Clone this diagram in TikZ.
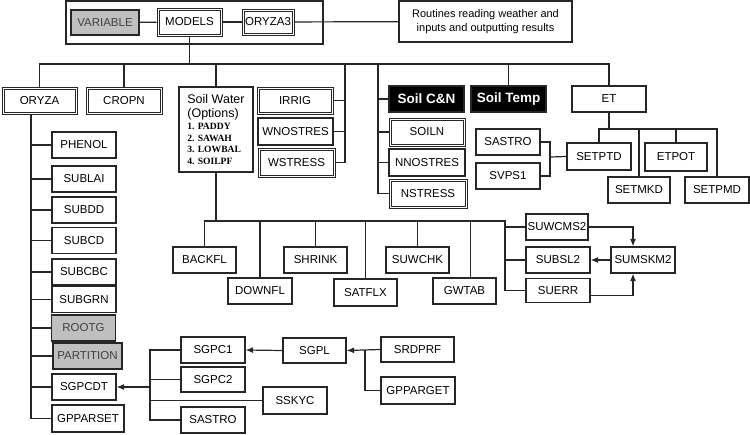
\documentclass[tikz,border=0pt]{standalone}
\usepackage{fontspec}
\setmainfont{Liberation Sans}
\newfontfamily\optfont{Liberation Serif}
\usepackage{tikz}
\usetikzlibrary{arrows.meta,calc}

\newcommand{\optline}[1]{{\optfont\bfseries\fontsize{9.6}{11}\selectfont #1}}

\begin{document}
\begin{tikzpicture}[x=1pt,y=-1pt,
  box/.style={draw=black!85,line width=1.1pt,fill=white,inner sep=0pt,
    minimum width=64pt,minimum height=26pt,font=\fontsize{11.5}{13}\selectfont},
  dbox/.style={box,line width=1pt},
  inner/.style={draw=black!85,line width=0.8pt},
  graybox/.style={box,fill=black!25,text=black!75},
  darkbox/.style={box,fill=black,text=white,font=\bfseries\fontsize{13.5}{15}\selectfont},
  link/.style={draw=black!85,line width=1.2pt},
  arr/.style={link,-{Latex[length=7.5pt,width=6pt]}}]
\useasboundingbox (0,0) rectangle (750,434);

% Top row
\node[box,minimum width=257pt,minimum height=43pt] (topframe) at (194.5,22.5) {};
\node[graybox,minimum width=68pt,minimum height=25pt] (variable) at (105,22.5) {VARIABLE};
\node[dbox,minimum width=65pt,minimum height=28pt] (models) at (189.5,22) {MODELS};
\node[dbox,minimum width=52pt] (oryza3) at (268,22) {ORYZA3};
\node[box,minimum width=173pt,minimum height=41pt,align=center,
  font=\fontsize{11}{13.5}\selectfont] (routines) at (485.5,21.5)
  {Routines reading weather and\\inputs and outputting results};
\draw[link] (variable) -- (models);
\draw[link] (models) -- (oryza3);
\draw[link] (oryza3) -- (routines);

% Second row
\node[dbox,minimum width=75pt,minimum height=27pt] (oryza) at (39.5,100.5) {ORYZA};
\node[dbox,minimum width=76pt,minimum height=27pt] (cropn) at (124,100.5) {CROPN};
\node[box,minimum width=74pt,minimum height=85pt,align=left,
  font=\fontsize{12.5}{14}\selectfont] (soilw) at (216,129.5)
  {Soil Water\\(Options)\\[-2pt]\optline{1. PADDY}\\[-2.5pt]\optline{2. SAWAH}\\[-2.5pt]%
   \optline{3. LOWBAL}\\[-2.5pt]\optline{4. SOILPF}};
\node[dbox,minimum width=76pt,minimum height=27pt] (irrig) at (295,100.5) {IRRIG};
\node[box,minimum width=75pt,minimum height=27pt] (wnostres) at (295.5,131.5) {WNOSTRES};
\node[dbox,minimum width=77pt,minimum height=29pt] (wstress) at (296.5,162.5) {WSTRESS};
\node[darkbox,minimum width=75pt] (soilcn) at (426.5,99) {Soil C\&N};
\node[darkbox,minimum width=75pt] (soiltemp) at (508.5,99) {Soil Temp};
\node[box,minimum width=74pt] (et) at (609,99) {ET};
\node[dbox,minimum width=76pt,minimum height=28pt] (soiln) at (427,132) {SOILN};
\node[box,minimum width=76pt,minimum height=27pt] (nnostres) at (427,162.5) {NNOSTRES};
\node[dbox,minimum width=78pt,minimum height=29pt] (nstress) at (428,193.5) {NSTRESS};

% inner line of the double boxes
\foreach \n in {models,oryza3,oryza,cropn,irrig,wstress,soiln,nstress}
  \draw[inner] ([shift={(2.6pt,-2.6pt)}]\n.north west) rectangle ([shift={(-2.6pt,2.6pt)}]\n.south east);

% Main bus
\coordinate (wbus) at (345,64);
\coordinate (cbus) at (378,64);
\draw[link] (models.south) -- (models.south |- wbus);
\draw[link] (oryza.north) |- (et.north |- wbus) -- (et.north);
\foreach \n in {cropn,soilw,soiltemp}
  \draw[link] (\n.north) -- (\n.north |- wbus);
\draw[link] (wbus) |- (wstress.east);
\foreach \n in {irrig,wnostres}
  \draw[link] (\n.east) -- (\n.east -| wbus);
\draw[link] (cbus) |- (nstress.west);
\foreach \n in {soilcn,soiln,nnostres}
  \draw[link] (\n.west) -- (\n.west -| cbus);

% ET branch
\node[box] (sastro) at (508,142) {SASTRO};
\node[box] (svps1) at (508,176) {SVPS1};
\node[box,minimum height=27pt] (setptd) at (599,156.5) {SETPTD};
\node[box,minimum width=62pt,minimum height=28pt] (etpot) at (676,157) {ETPOT};
\node[box,minimum width=62pt] (setmkd) at (639,190) {SETMKD};
\node[box] (setpmd) at (717,190) {SETPMD};
\coordinate (etbus) at (609,129);
\coordinate (sjoin) at (550,157);
\draw[link] (et.south) -- (etbus);
\draw[link] (setptd.north) |- (setpmd.north |- etbus) -- (setpmd.north);
\foreach \n in {setmkd,etpot}
  \draw[link] (\n.north) -- (\n.north |- etbus);
\draw[link] (sastro.east) -| (svps1.east -| sjoin) -- (svps1.east);
\draw[link] (setptd.west) -- (sjoin);

% ORYZA column
\foreach \n/\t/\y in {phenol/PHENOL/145,sublai/SUBLAI/179,subdd/SUBDD/210,
    subcd/SUBCD/240.5,subcbc/SUBCBC/272,subgrn/SUBGRN/299.5,sgpcdt/SGPCDT/387}
  \node[box] (\n) at (84,\y) {\t};
\node[graybox] (rootg) at (83.5,328) {ROOTG};
\node[graybox,minimum width=69pt] (partition) at (87.5,356) {PARTITION};
\node[box,minimum width=72pt,minimum height=27pt] (gpparset) at (88,418.5) {GPPARSET};
\coordinate (obus) at (31,114);
\draw[link] (obus) |- (gpparset.west);
\foreach \n in {phenol,sublai,subdd,subcd,subcbc,subgrn,rootg,partition,sgpcdt}
  \draw[link] (\n.west) -- (\n.west -| obus);

% Soil water routines
\node[box,minimum width=63pt] (backfl) at (204.5,260) {BACKFL};
\node[box] (downfl) at (260,291) {DOWNFL};
\node[box,minimum width=63pt] (shrink) at (315.5,260) {SHRINK};
\node[box,minimum width=63pt,minimum height=27pt] (satflx) at (365.5,292.5) {SATFLX};
\node[box,minimum width=63pt] (suwchk) at (417.5,260) {SUWCHK};
\node[box,minimum width=63pt] (gwtab) at (464.5,291) {GWTAB};
\node[box,minimum width=62pt] (suwcms2) at (557,227) {SUWCMS2};
\node[box] (subsl2) at (558,260) {SUBSL2};
\node[box,minimum height=24pt] (suerr) at (558,290.5) {SUERR};
\node[box] (sumskm2) at (643,260) {SUMSKM2};
\coordinate (swbus) at (216,221);
\coordinate (subus) at (505,221);
\draw[link] (soilw.south) -- (swbus);
\draw[link] (backfl.north) |- (subus) |- (suerr.west);
\foreach \n in {downfl,shrink,satflx,suwchk}
  \draw[link] (\n.north) -- (\n.north |- subus);
\draw[link] ([xshift=6pt]gwtab.north) -- ([xshift=6pt]gwtab.north |- subus);
\foreach \n in {suwcms2,subsl2}
  \draw[link] (\n.west) -- (\n.west -| subus);
\draw[arr] (suwcms2.east) -| ([xshift=-10pt]sumskm2.north);
\draw[arr] (sumskm2.west) -- (subsl2.east);
\draw[arr] ([yshift=-5pt]suerr.east) -| ([xshift=-10pt]sumskm2.south);

% Growth routines
\node[box] (sgpc1) at (213,350) {SGPC1};
\node[box,minimum height=25pt] (sgpc2) at (213,379.5) {SGPC2};
\node[box,minimum height=27pt] (sskyc) at (295,400.5) {SSKYC};
\node[box] (sastrob) at (213,420) {SASTRO};
\node[box,minimum width=63pt,minimum height=25pt] (sgpl) at (314.5,350.5) {SGPL};
\node[box,minimum width=73pt,minimum height=25pt] (srdprf) at (417.5,349.5) {SRDPRF};
\node[box,minimum width=74pt,minimum height=27pt] (gpparget) at (418,390.5) {GPPARGET};
\coordinate (gbus) at (150,387);
\coordinate (rjoin) at (365,350);
\draw[arr] (gbus) -- (sgpcdt.east);
\draw[link] (sgpc1.west) -| (sastrob.west -| gbus) -- (sastrob.west);
\foreach \n in {sgpc2,sskyc}
  \draw[link] (\n.west) -- (\n.west -| gbus);
\draw[arr] (sgpl.west) -- (sgpc1.east);
\draw[arr] (srdprf.west) -- (sgpl.east);
\draw[link] (gpparget.west) -| (rjoin);
\end{tikzpicture}
\end{document}
